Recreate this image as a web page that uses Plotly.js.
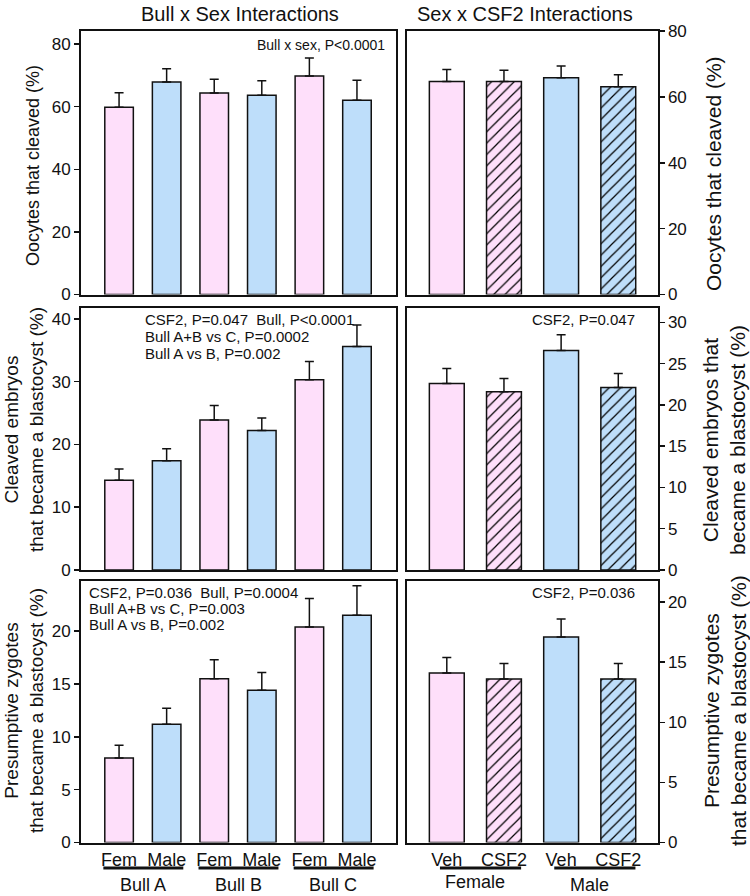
<!DOCTYPE html>
<html><head><meta charset="utf-8">
<script src="https://cdn.plot.ly/plotly-3.0.1.min.js"></script>
<style>html,body{margin:0;padding:0;background:#fff}</style>
</head><body><div id="chart" style="width:750px;height:896px"></div>
<script>
// ---- data ----
const bullSexLabels = ["Fem","Male","Fem","Male","Fem","Male"];
const bullGroups = ["Bull A","Bull B","Bull C"];
const sexCsfLabels = ["Veh","CSF2","Veh","CSF2"];
const sexGroups = ["Female","Male"];

const cleavedBull = [59.8, 67.9, 64.4, 63.7, 69.8, 62.1];
const cleavedBullSE = [4.7, 4.2, 4.4, 4.6, 5.8, 6.4];
const cleavedSex = [64.7, 64.7, 65.8, 63.1];
const cleavedSexSE = [3.6, 3.4, 3.6, 3.6];

const blastCleavedBull = [14.3, 17.4, 23.9, 22.2, 30.3, 35.6];
const blastCleavedBullSE = [1.8, 1.9, 2.3, 2.0, 2.9, 3.4];
const blastCleavedSex = [22.6, 21.6, 26.6, 22.1];
const blastCleavedSexSE = [1.8, 1.6, 1.9, 1.7];

const blastZygBull = [8.0, 11.2, 15.5, 14.4, 20.4, 21.5];
const blastZygBullSE = [1.2, 1.5, 1.8, 1.7, 2.7, 2.8];
const blastZygSex = [14.1, 13.6, 17.1, 13.6];
const blastZygSexSE = [1.3, 1.3, 1.5, 1.3];

// ---- style ----
const W = 750, H = 896;
const FONT = "Liberation Sans, Arial, Helvetica, sans-serif";
const PINK = "#FEDFFA", BLUE = "#BEDEFA";
const px = v => v / W, py = v => 1 - v / H;

const leftColors = bullSexLabels.map(l => l === "Fem" ? PINK : BLUE);
const rightColors = [PINK, PINK, BLUE, BLUE];
const rightShapes = sexCsfLabels.map(l => l === "CSF2" ? "/" : "");

// one trace per bar so each bar has a scalar colour and pattern
function bars(xa, ya, vals, se, colors, shapes, width) {
  return vals.map((v, i) => {
    const marker = {color: colors[i], line: {color: "#111", width: 1.5}};
    if (shapes && shapes[i]) {
      marker.pattern = {shape: shapes[i], fillmode: "replace",
        fgcolor: "#000000", bgcolor: colors[i], fgopacity: 1, size: 8, solidity: 0.15};
    }
    return {
      type: "bar", x: [i], y: [v], xaxis: xa, yaxis: ya, width: width,
      marker: marker,
      error_y: {type: "data", array: [se[i]], arrayminus: [0], symmetric: false,
                color: "#111", thickness: 1.5, width: 4.5},
      hoverinfo: "skip", showlegend: false
    };
  });
}

const data = [].concat(
  bars("x", "y", cleavedBull, cleavedBullSE, leftColors, null, 0.6),
  bars("x2", "y2", cleavedSex, cleavedSexSE, rightColors, rightShapes, 0.61),
  bars("x3", "y3", blastCleavedBull, blastCleavedBullSE, leftColors, null, 0.6),
  bars("x4", "y4", blastCleavedSex, blastCleavedSexSE, rightColors, rightShapes, 0.61),
  bars("x5", "y5", blastZygBull, blastZygBullSE, leftColors, null, 0.6),
  bars("x6", "y6", blastZygSex, blastZygSexSE, rightColors, rightShapes, 0.61)
);

const colL = [px(81), px(395.5)], colR = [px(406.5), px(657.5)];
const rows = [[py(294.5), py(31)], [py(570), py(307.5)], [py(842.5), py(580.5)]];

const baseAx = {
  showline: true, mirror: true, linecolor: "#111", linewidth: 2,
  showgrid: false, zeroline: false, fixedrange: true,
  tickfont: {family: FONT, size: 17, color: "#111"}
};
function xax(dom, anchor, range, labels) {
  return Object.assign({}, baseAx, {
    domain: dom, anchor: anchor, range: range, ticks: "",
    tickmode: "array", tickvals: labels.map((_, i) => i),
    ticktext: labels, showticklabels: false,
    tickfont: {family: FONT, size: 18, color: "#111"}
  });
}
function yax(dom, anchor, range, dtick, side) {
  return Object.assign({}, baseAx, {
    domain: dom, anchor: anchor, range: range, dtick: dtick, tick0: 0,
    ticks: "outside", ticklen: 5, tickwidth: 1.5, tickcolor: "#111", side: side
  });
}
const LR = [-0.8, 5.81], RR = [-0.705, 3.686];

const layout = {
  width: W, height: H, margin: {l: 0, r: 0, t: 0, b: 0},
  paper_bgcolor: "#fff", plot_bgcolor: "#fff", showlegend: false,
  barmode: "overlay",
  xaxis: xax(colL, "y", LR, bullSexLabels),
  xaxis2: xax(colR, "y2", RR, sexCsfLabels),
  xaxis3: xax(colL, "y3", LR, bullSexLabels),
  xaxis4: xax(colR, "y4", RR, sexCsfLabels),
  xaxis5: Object.assign(xax(colL, "y5", LR, bullSexLabels), {showticklabels: true}),
  xaxis6: Object.assign(xax(colR, "y6", RR, sexCsfLabels), {showticklabels: true}),
  yaxis: yax(rows[0], "x", [0, 84.2], 20, "left"),
  yaxis2: yax(rows[0], "x2", [0, 80], 20, "right"),
  yaxis3: yax(rows[1], "x3", [0, 41.8], 10, "left"),
  yaxis4: yax(rows[1], "x4", [0, 31.8], 5, "right"),
  yaxis5: yax(rows[2], "x5", [0, 24.8], 5, "left"),
  yaxis6: yax(rows[2], "x6", [0, 21.8], 5, "right"),
  annotations: [],
  shapes: []
};

function note(text, x, y, size, opts) {
  layout.annotations.push(Object.assign({
    text: text, xref: "paper", yref: "paper", x: px(x), y: py(y),
    showarrow: false, xanchor: "center", yanchor: "middle",
    font: {family: FONT, size: size, color: "#111"}
  }, opts || {}));
}
// panel titles
note("Bull x Sex Interactions", 240, 14, 20);
note("Sex x CSF2 Interactions", 525, 14, 20);
// y-axis titles
note("Oocytes that cleaved (%)", 33, 166, 18, {textangle: -90});
note("Cleaved embryos<br>that became a blastocyst (%)", 24, 430, 19, {textangle: -90});
note("Presumptive zygotes<br>that became a blastocyst (%)", 24, 711, 19, {textangle: -90});
note("Oocytes that cleaved (%)", 713, 174, 21, {textangle: -90});
note("Cleaved embryos that<br>became a blastocyst (%)", 724, 440, 21, {textangle: -90});
note("Presumptive zygotes<br>that became a blastocyst (%)", 725, 711, 21, {textangle: -90});
// statistics
note("Bull x sex, P&lt;0.0001", 387, 45, 14, {xanchor: "right"});
note("CSF2, P=0.047&nbsp; Bull, P&lt;0.0001", 143, 319, 15, {xanchor: "left"});
note("Bull A+B vs C, P=0.0002", 143, 336, 15, {xanchor: "left"});
note("Bull A vs B, P=0.002", 143, 353, 15, {xanchor: "left"});
note("CSF2, P=0.036&nbsp; Bull, P=0.0004", 87, 592, 15, {xanchor: "left"});
note("Bull A+B vs C, P=0.003", 87, 608, 15, {xanchor: "left"});
note("Bull A vs B, P=0.002", 87, 624, 15, {xanchor: "left"});
note("CSF2, P=0.047", 637, 319, 15, {xanchor: "right"});
note("CSF2, P=0.036", 637, 592, 15, {xanchor: "right"});

// group labels and underlines
bullGroups.forEach((g, i) => {
  layout.annotations.push({text: g, xref: "x5", yref: "paper", x: 2 * i + 0.5, y: py(885),
    showarrow: false, xanchor: "center", yanchor: "middle",
    font: {family: FONT, size: 18, color: "#111"}});
  layout.shapes.push({type: "line", xref: "x5", yref: "paper",
    x0: 2 * i - 0.33, x1: 2 * i + 1.35, y0: py(868), y1: py(868),
    line: {color: "#111", width: 3}});
});
sexGroups.forEach((g, i) => {
  layout.annotations.push({text: g, xref: "x6", yref: "paper", x: 2 * i + 0.5, y: py(i === 0 ? 882 : 885),
    showarrow: false, xanchor: "center", yanchor: "middle",
    font: {family: FONT, size: 18, color: "#111"}});
  layout.shapes.push({type: "line", xref: "x6", yref: "paper",
    x0: 2 * i - 0.12, x1: 2 * i + 1.3, y0: py(868), y1: py(868),
    line: {color: "#111", width: 3}});
});

Plotly.newPlot("chart", data, layout, {staticPlot: true, displayModeBar: false});
</script>
</body></html>
